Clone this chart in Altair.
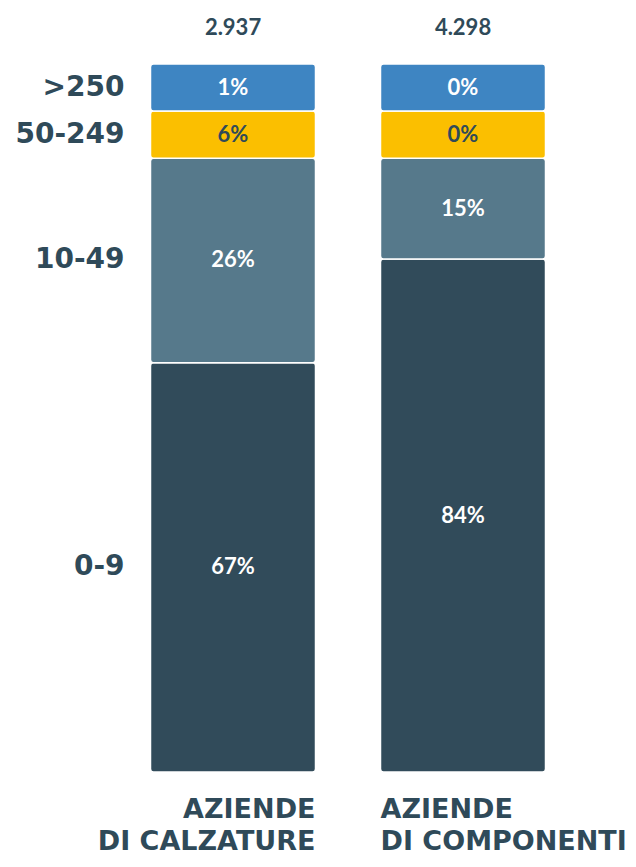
import altair as alt
import pandas as pd

# ---- data ----
groups = ["AZIENDE\nDI CALZATURE", "AZIENDE\nDI COMPONENTI"]
totals = ["2.937", "4.298"]
classes = ["0-9", "10-49", "50-249", ">250"]
pct_calzature = [67, 26, 6, 1]
pct_componenti = [84, 15, 0, 0]
# drawn segment heights (share of bar height, as shown in the picture)
shown_calzature = [57.8, 28.9, 6.65, 6.65]
shown_componenti = [72.45, 14.25, 6.65, 6.65]
colors = ["#314b5a", "#56798b", "#fbbf00", "#3e85c2"]

TEXT = "#2f4a59"

rows = []
for gi, (g, tot, pcts, shown) in enumerate(
    zip(groups, totals, [pct_calzature, pct_componenti], [shown_calzature, shown_componenti])
):
    for r, (c, p, s) in enumerate(zip(classes, pcts, shown)):
        rows.append({"group": g, "gi": gi, "total": tot, "cls": c, "rank": r,
                     "pct": p, "label": f"{p}%", "shown": s})
df = pd.DataFrame(rows)

x_scale = alt.Scale(domain=groups, paddingInner=65 / 230, paddingOuter=65 / 460)
y_scale = alt.Scale(domain=[0, 100], nice=False, zero=True)

base = alt.Chart(df).transform_stack(
    stack="shown", groupby=["group"], sort=[alt.SortField("rank", order="ascending")],
    as_=["y0", "y1"]
).transform_calculate(mid="(datum.y0 + datum.y1) / 2")

bars = base.mark_bar(cornerRadius=3, stroke="white", strokeWidth=1.5).encode(
    x=alt.X("group:N", scale=x_scale, axis=None),
    y=alt.Y("y0:Q", scale=y_scale, axis=None),
    y2="y1:Q",
    color=alt.Color("cls:N", scale=alt.Scale(domain=classes, range=colors), legend=None),
)

pct_text = base.mark_text(font="Lato", fontWeight="bold", fontSize=22, baseline="middle").encode(
    x=alt.X("group:N", scale=x_scale, axis=None),
    y=alt.Y("mid:Q", scale=y_scale, axis=None),
    text="label:N",
    color=alt.condition("datum.cls == '50-249'", alt.value(TEXT), alt.value("white")),
)

class_text = base.transform_filter("datum.gi == 0").mark_text(
    font="DejaVu Sans", fontWeight="bold", fontSize=28, align="right", baseline="middle",
    dx=-26, color=TEXT,
).encode(
    x=alt.X("group:N", scale=x_scale, axis=None, bandPosition=0),
    y=alt.Y("mid:Q", scale=y_scale, axis=None),
    text="cls:N",
)

total_text = base.transform_filter("datum.rank == 0").mark_text(
    font="Lato", fontWeight="bold", fontSize=22, baseline="middle", dy=-36, color=TEXT,
).encode(
    x=alt.X("group:N", scale=x_scale, axis=None),
    y=alt.datum(100),
    text="total:N",
)

left_title = base.transform_filter("datum.rank == 0 && datum.gi == 0").mark_text(
    font="DejaVu Sans", fontWeight="bold", fontSize=27, align="right", baseline="alphabetic",
    dy=46, lineBreak="\n", lineHeight=32, color=TEXT,
).encode(
    x=alt.X("group:N", scale=x_scale, axis=None, bandPosition=1),
    y=alt.datum(0),
    text="group:N",
)

right_title = base.transform_filter("datum.rank == 0 && datum.gi == 1").mark_text(
    font="DejaVu Sans", fontWeight="bold", fontSize=27, align="left", baseline="alphabetic",
    dy=46, lineBreak="\n", lineHeight=32, color=TEXT,
).encode(
    x=alt.X("group:N", scale=x_scale, axis=None, bandPosition=0),
    y=alt.datum(0),
    text="group:N",
)

chart = alt.layer(bars, pct_text, class_text, total_text, left_title, right_title).properties(
    width=460, height=708,
    autosize=alt.AutoSizeParams(type="none"),
    padding={"left": 110, "top": 56, "right": 50, "bottom": 87},
    background="white",
).configure_view(strokeWidth=0, stroke=None)

chart.save("out.html", embed_options={"renderer": "svg", "actions": False})
